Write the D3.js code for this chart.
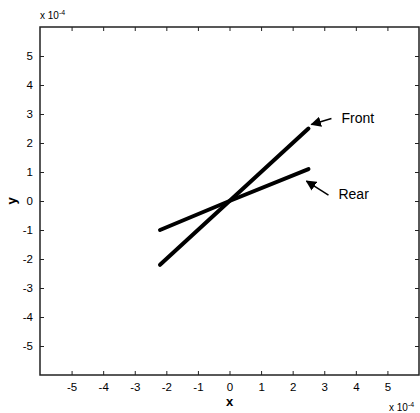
<!DOCTYPE html>
<html>
  <head>
    <meta charset="utf-8">
    <script src="https://d3js.org/d3.v7.min.js"></script>
    <style>
      body { margin: 0; background: #fff; }
      text { font-family: "Liberation Sans", Arial, sans-serif; fill: #000; }
    </style>
  </head>
  <body>
    <div id="chart"></div>
    <script type="text/javascript">

      // values in units of 1e-4
      var xTicks = [-5, -4, -3, -2, -1, 0, 1, 2, 3, 4, 5];
      var yTicks = [-5, -4, -3, -2, -1, 0, 1, 2, 3, 4, 5];

      var frontX = [-2.2, 0, 2.5];
      var frontY = [-2.2, 0, 2.5];
      var rearX = [-2.2, 0, 2.5];
      var rearY = [-1.0, 0, 1.1];

      var seriesNames = ["Front", "Rear"];

      var margin = {top: 27, right: 1, bottom: 38, left: 40},
          width = 420 - margin.left - margin.right,
          height = 413 - margin.top - margin.bottom;

      var svg = d3.select("#chart")
        .append("svg")
        .attr("width", 420)
        .attr("height", 413)
        .append("g")
        .attr("transform", "translate(" + margin.left + "," + margin.top + ")");

      var x = d3.scaleLinear().domain([-6, 6]).range([0, width]);
      var y = d3.scaleLinear().domain([-6, 6]).range([height, 0]);

      // plain hyphen for negatives, like the original
      var fmt = function(d) { return String(d); };

      // axes with inward ticks on all 4 sides
      function styleAxis(g) {
        g.select(".domain").remove();
        g.selectAll(".tick line").attr("stroke", "#222").attr("stroke-width", 1);
        g.selectAll("text").attr("font-size", 11.5);
      }

      svg.append("g")
        .attr("transform", "translate(0," + height + ")")
        .call(d3.axisBottom(x).tickValues(xTicks).tickSize(-4).tickPadding(8).tickFormat(fmt))
        .call(styleAxis);

      svg.append("g")
        .call(d3.axisLeft(y).tickValues(yTicks).tickSize(-4).tickPadding(7).tickFormat(fmt))
        .call(styleAxis);

      svg.append("g")
        .call(d3.axisTop(x).tickValues(xTicks).tickSize(-4).tickFormat(""))
        .call(styleAxis);

      svg.append("g")
        .attr("transform", "translate(" + width + ",0)")
        .call(d3.axisRight(y).tickValues(yTicks).tickSize(-4).tickFormat(""))
        .call(styleAxis);

      svg.append("rect")
        .attr("width", width)
        .attr("height", height)
        .attr("fill", "none")
        .attr("stroke", "#222")
        .attr("stroke-width", 1.5);

      // lines
      var line = d3.line()
        .x(function(d) { return x(d[0]); })
        .y(function(d) { return y(d[1]); });

      var series = [d3.zip(frontX, frontY), d3.zip(rearX, rearY)];

      svg.selectAll(".series")
        .data(series)
        .enter().append("path")
        .attr("class", "series")
        .attr("d", line)
        .attr("fill", "none")
        .attr("stroke", "#000")
        .attr("stroke-width", 4)
        .attr("stroke-linecap", "round");

      // annotation arrows
      svg.append("defs").append("marker")
        .attr("id", "head")
        .attr("viewBox", "0 0 10 10")
        .attr("refX", 9).attr("refY", 5)
        .attr("markerWidth", 7).attr("markerHeight", 7)
        .attr("orient", "auto")
        .append("path")
        .attr("d", "M0,0 L10,5 L0,10 z")
        .attr("fill", "#000");

      var last = frontX.length - 1;
      var notes = [
        {name: seriesNames[0], tx: x(frontX[last]) + 33, ty: y(frontY[last]) - 6, ax: x(frontX[last]) + 3, ay: y(frontY[last]) - 4},
        {name: seriesNames[1], tx: x(rearX[last]) + 30, ty: y(rearY[last]) + 30, ax: x(rearX[last]) - 2, ay: y(rearY[last]) + 12}
      ];

      notes.forEach(function(n) {
        svg.append("line")
          .attr("x1", n.tx - 10).attr("y1", n.ty - 4)
          .attr("x2", n.ax).attr("y2", n.ay)
          .attr("stroke", "#000")
          .attr("stroke-width", 1.5)
          .attr("marker-end", "url(#head)");
        svg.append("text")
          .attr("x", n.tx)
          .attr("y", n.ty)
          .attr("font-size", 14)
          .text(n.name);
      });

      // axis labels
      svg.append("text")
        .attr("x", x(0))
        .attr("y", height + 31)
        .attr("text-anchor", "middle")
        .attr("font-size", 13)
        .attr("font-weight", "bold")
        .text("x");

      svg.append("text")
        .attr("transform", "translate(-24," + y(0) + ") rotate(-90)")
        .attr("text-anchor", "middle")
        .attr("font-size", 13)
        .attr("font-weight", "bold")
        .text("y");

      // exponent labels
      function expLabel(px, py) {
        var t = svg.append("text").attr("x", px).attr("y", py).attr("font-size", 10);
        t.append("tspan").text("x 10");
        t.append("tspan").attr("dy", -4).attr("font-size", 7).text("-4");
      }
      expLabel(0, -8);
      expLabel(width - 30, height + 36);

    </script>
  </body>
</html>
